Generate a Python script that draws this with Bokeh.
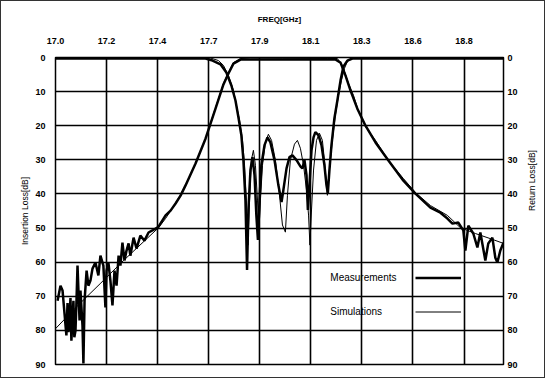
import math
from bokeh.plotting import figure
from bokeh.models import Range1d, LinearAxis, FixedTicker, Label, Legend, LegendItem
from bokeh.embed import file_html
from bokeh.resources import INLINE

# ---- axis ticks ----
freq_ticks = [17.0, 17.225, 17.45, 17.675, 17.9, 18.125, 18.35, 18.575, 18.8]
freq_tick_labels = ["17.0", "17.2", "17.4", "17.7", "17.9", "18.1", "18.3", "18.6", "18.8"]
db_ticks = [0, 10, 20, 30, 40, 50, 60, 70, 80, 90]

# ---- Insertion loss (S21), simulation ----
s21_sim_freq = [17.000, 17.100, 17.200, 17.300, 17.454, 17.485, 17.529, 17.573, 17.617, 17.661,
                17.705, 17.740, 17.762, 17.784, 17.815, 17.859, 18.000, 18.200, 18.242, 18.264,
                18.291, 18.313, 18.330, 18.357, 18.366, 18.410, 18.467, 18.533, 18.586, 18.652,
                18.727, 18.784, 18.850, 18.916, 18.974]
s21_sim_db = [79.5, 72.6, 66.1, 59.5, 49.9, 47.2, 42.8, 37.5, 31.1, 23.8,
              14.7, 7.6, 4.4, 1.5, 0.3, 0.1, 0.2, 0.3, 0.3, 2.3,
              7.6, 11.1, 14.7, 19.0, 20.3, 24.3, 30.2, 35.5, 39.6, 43.4,
              46.3, 49.9, 51.6, 53.1, 54.5]

# ---- Insertion loss (S21), measurement ----
s21_meas_freq = [17.009, 17.022, 17.031, 17.048, 17.053, 17.057, 17.062, 17.066, 17.070, 17.079,
                 17.083, 17.088, 17.092, 17.097, 17.106,
                 17.110, 17.119, 17.123, 17.128, 17.137, 17.145, 17.154, 17.163, 17.176, 17.189,
                 17.198, 17.211, 17.220, 17.225, 17.233, 17.242, 17.251, 17.260, 17.269, 17.278,
                 17.286, 17.295, 17.304, 17.313, 17.322, 17.330, 17.344, 17.357, 17.374, 17.392,
                 17.410, 17.427, 17.454, 17.485, 17.507, 17.529, 17.551, 17.573, 17.617, 17.661,
                 17.705, 17.740, 17.762, 17.784, 17.815, 17.859, 18.233, 18.256, 18.278, 18.300,
                 18.330, 18.366, 18.410, 18.467, 18.533, 18.586, 18.652, 18.696, 18.727, 18.749,
                 18.775, 18.797, 18.806, 18.819, 18.841, 18.859, 18.872, 18.894, 18.907, 18.925,
                 18.938, 18.947, 18.960, 18.974]
s21_meas_db = [71.3, 66.9, 68.3, 81.5, 72.0, 80.5, 75.7, 70.5, 83.0, 71.3,
               82.0, 80.1, 72.5, 61.0, 77.1,
               68.3, 78.6, 89.7, 71.3, 62.5, 66.9, 65.4, 61.9, 60.1, 63.9,
               58.1, 61.0, 73.3, 62.5, 60.1, 65.4, 72.7, 62.5, 66.9, 58.1,
               61.0, 54.3, 59.5, 56.6, 54.5, 58.1, 52.8, 56.0, 52.2, 53.7,
               51.3, 50.7, 49.6, 46.3, 44.9, 42.8, 40.5, 37.5, 31.1, 23.8,
               15.0, 7.9, 4.7, 1.8, 0.6, 0.6, 0.6, 1.5, 5.3, 9.7,
               15.0, 20.0, 24.9, 30.2, 36.1, 39.9, 44.0, 45.5, 47.2, 48.7,
               48.4, 50.7, 56.6, 49.3, 51.6, 55.7, 51.3, 59.5, 54.5, 52.8,
               58.7, 60.1, 56.6, 54.3]

# ---- Return loss (S11), simulation ----
s11_sim_freq = [17.000, 17.639, 17.683, 17.718, 17.740, 17.762, 17.784, 17.797, 17.811, 17.824,
                17.833, 17.841, 17.848, 17.855, 17.863, 17.872, 17.881, 17.890, 17.896, 17.903,
                17.912, 17.925, 17.938, 17.952, 17.969, 17.987, 18.000, 18.013, 18.022, 18.035,
                18.053, 18.066, 18.079, 18.093, 18.106, 18.115, 18.121, 18.128, 18.137, 18.150,
                18.163, 18.176, 18.185, 18.194, 18.198, 18.207, 18.220, 18.233, 18.247, 18.260,
                18.273, 18.286, 18.308, 18.344, 18.974]
s11_sim_db = [0.0, 0.0, 0.15, 0.9, 2.3, 5.3, 9.6, 14.0, 18.4, 24.3,
              31.6, 41.8, 55.0, 41.8, 30.1, 27.2, 31.6, 41.8, 51.2, 41.8,
              31.6, 24.9, 22.5, 24.3, 30.1, 40.4, 49.1, 51.2, 40.4, 30.1,
              25.4, 24.3, 26.6, 31.6, 38.9, 46.2, 55.0, 44.7, 33.0, 24.3,
              22.2, 24.3, 30.1, 37.4, 40.4, 33.0, 24.3, 17.0, 11.1, 6.7,
              3.2, 1.2, 0.3, 0.0, 0.0]

# ---- Return loss (S11), measurement ----
s11_meas_freq = [17.000, 17.661, 17.692, 17.727, 17.753, 17.775, 17.793, 17.806, 17.819, 17.828,
                 17.837, 17.844, 17.850, 17.859, 17.868, 17.877, 17.885, 17.892, 17.899, 17.907,
                 17.921, 17.934, 17.947, 17.965, 17.982, 17.996, 18.004, 18.018, 18.031, 18.044,
                 18.062, 18.079, 18.088, 18.097, 18.106, 18.112, 18.119, 18.128, 18.137, 18.145,
                 18.159, 18.172, 18.185, 18.194, 18.200, 18.207, 18.216, 18.229, 18.242, 18.256,
                 18.269, 18.286, 18.308, 18.974]
s11_meas_db = [0.3, 0.3, 0.9, 2.0, 4.4, 8.2, 12.6, 17.5, 22.8, 30.1,
               41.8, 62.3, 44.7, 33.0, 29.2, 34.5, 46.2, 53.5, 41.8, 31.6,
               25.7, 23.4, 24.9, 30.1, 37.4, 42.4, 38.9, 32.5, 29.2, 28.7,
               30.1, 31.9, 32.5, 30.1, 34.5, 44.7, 37.4, 27.2, 23.4, 21.9,
               22.8, 25.7, 31.6, 37.4, 39.8, 33.0, 25.7, 17.8, 12.6, 6.7,
               2.6, 0.9, 0.3, 0.3]

FONT = "Liberation Sans"

p = figure(width=545, height=378, output_backend="svg", toolbar_location=None,
           x_range=Range1d(17.0, 18.974), y_range=Range1d(90, 0),
           x_axis_location="above",
           min_border_left=54, min_border_right=43, min_border_top=56, min_border_bottom=15)
p.styles = {"border": "1px solid #333"}
p.outline_line_color = "black"
p.outline_line_width = 1.5
p.background_fill_color = "white"

# top axis
xa = p.xaxis[0]
xa.ticker = FixedTicker(ticks=freq_ticks)
xa.major_label_overrides = {t: l for t, l in zip(freq_ticks, freq_tick_labels)}
xa.axis_label = "FREQ[GHz]"
xa.axis_label_text_font_size = "8px"
xa.axis_label_text_font_style = "bold"
xa.axis_label_standoff = 11
# left axis
ya = p.yaxis[0]
ya.ticker = FixedTicker(ticks=db_ticks)
ya.axis_label = "Insertion Loss[dB]"
ya.axis_label_text_font_size = "8.5px"
ya.axis_label_text_font_style = "normal"
ya.axis_label_standoff = 2
# right axis
yr = LinearAxis(ticker=FixedTicker(ticks=db_ticks))
yr.axis_label = "Return Loss[dB]"
yr.axis_label_text_font_size = "8.5px"
yr.axis_label_text_font_style = "normal"
yr.axis_label_standoff = 11
try:
    yr.axis_label_orientation = math.pi / 2
except Exception:
    pass
p.add_layout(yr, "right")

for ax in [xa, ya, yr]:
    ax.axis_line_color = None
    ax.major_tick_line_color = None
    ax.minor_tick_line_color = None
    ax.major_tick_out = 0
    ax.major_tick_in = 0
    ax.major_label_text_font = FONT
    ax.major_label_text_font_style = "bold"
    ax.major_label_text_font_size = "9px"
    ax.major_label_text_color = "black"
    ax.axis_label_text_font = FONT
    ax.axis_label_text_color = "black"
xa.major_label_standoff = 14
ya.major_label_standoff = 10
yr.major_label_standoff = 4

p.xgrid.ticker = FixedTicker(ticks=freq_ticks)
p.ygrid.ticker = FixedTicker(ticks=db_ticks)
for g in [p.xgrid[0], p.ygrid[0]]:
    g.grid_line_color = "black"
    g.grid_line_width = 1.6

# curves
r_sim = p.line(s11_sim_freq, s11_sim_db, line_color="black", line_width=1)
p.line(s21_sim_freq, s21_sim_db, line_color="black", line_width=1)
r_meas = p.line(s11_meas_freq, s11_meas_db, line_color="black", line_width=2.5)
p.line(s21_meas_freq, s21_meas_db, line_color="black", line_width=2.5)

legend = Legend(items=[LegendItem(label=" ", renderers=[r_meas]),
                       LegendItem(label=" ", renderers=[r_sim])],
                location=(360, 47), orientation="vertical", padding=0, margin=0,
                spacing=23, glyph_width=46, glyph_height=11, label_width=0,
                label_height=11, label_standoff=0, label_text_font_size="6px",
                border_line_color=None, background_fill_alpha=0)
p.add_layout(legend)

p.add_layout(Label(x=18.211, y=64.5, text="Measurements", text_baseline="middle",
                   text_align="left", text_font=FONT, text_font_size="10px",
                   text_color="black"))
p.add_layout(Label(x=18.211, y=74.4, text="Simulations", text_baseline="middle",
                   text_align="left", text_font=FONT, text_font_size="10px",
                   text_color="black"))

open("out.html", "w").write(file_html(p, INLINE))
